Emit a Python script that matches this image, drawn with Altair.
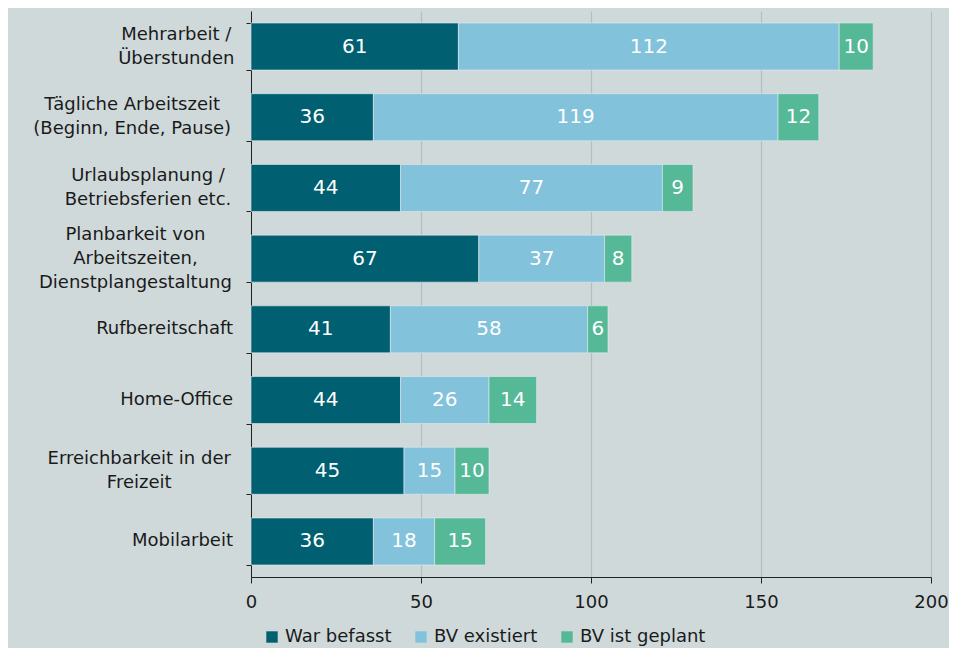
import altair as alt
import pandas as pd

categories = [
    "Mehrarbeit /|Überstunden",
    "Tägliche Arbeitszeit|(Beginn, Ende, Pause)",
    "Urlaubsplanung /|Betriebsferien etc.",
    "Planbarkeit von|Arbeitszeiten,|Dienstplangestaltung",
    "Rufbereitschaft",
    "Home-Office",
    "Erreichbarkeit in der|Freizeit",
    "Mobilarbeit",
]
series = ["War befasst", "BV existiert", "BV ist geplant"]
war_befasst = [61, 36, 44, 67, 41, 44, 45, 36]
bv_existiert = [112, 119, 77, 37, 58, 26, 15, 18]
bv_geplant = [10, 12, 9, 8, 6, 14, 10, 15]
colors = ["#005f71", "#82c2da", "#55b896"]
x_ticks = [0, 50, 100, 150, 200]

rows = []
for i, c in enumerate(categories):
    for j, (s, vals) in enumerate(zip(series, [war_befasst, bv_existiert, bv_geplant])):
        rows.append({"category": c, "series": s, "order": j, "value": vals[i]})
df = pd.DataFrame(rows)
cat_df = pd.DataFrame({"category": categories})

FONT = "DejaVu Sans"
LFS = 18      # y label font size
LH = 24       # y label line height
GAP = 18      # distance of label block from axis line

L = "split(datum.category, '|')"
NL = f"length({L})"


def width_expr(s):
    narrow = f"(length({s}) - length(replace({s}, regexp('[ijltfr,. ()/]', 'g'), '')))"
    return f"({LFS}*(0.62*length({s}) - 0.26*{narrow}))"


maxw = "max(" + ", ".join(
    f"({NL} > {i} ? {width_expr(f'{L}[{i}]')} : 0)" for i in range(3)
) + ")"

y_scale = alt.Scale(paddingInner=0.335, paddingOuter=0.17)

base = alt.Chart(df).transform_stack(
    stack="value", groupby=["category"], as_=["x0", "x1"],
    sort=[alt.SortField("order", order="ascending")]
).transform_calculate(mid="(datum.x0 + datum.x1) / 2")

y_enc = alt.Y(
    "category:N", sort=categories, title=None, scale=y_scale,
    axis=alt.Axis(labels=False, tickSize=5, tickColor="#222",
                  domainColor="#222", tickBand="extent"),
)

bars = base.mark_bar(stroke="#e0ecee", strokeWidth=0.6).encode(
    y=y_enc,
    x=alt.X("x0:Q", title=None,
            scale=alt.Scale(domain=[0, 200], nice=False),
            axis=alt.Axis(values=x_ticks, labelFontSize=18, labelFont=FONT,
                          labelColor="#1a1a1a", labelPadding=10, tickSize=6,
                          labelFlush=False,
                          tickColor="#222", domainColor="#222",
                          grid=True, gridColor="#b5bebf", gridWidth=1.2)),
    x2="x1:Q",
    color=alt.Color("series:N", sort=series,
                    scale=alt.Scale(domain=series, range=colors),
                    legend=alt.Legend(
                        title=None, orient="none", direction="horizontal",
                        legendX=12, legendY=617, symbolType="square",
                        symbolSize=130, symbolStrokeWidth=0, labelFontSize=18,
                        labelFont=FONT, labelColor="#1a1a1a", columnPadding=20,
                        symbolOffset=0, labelOffset=4)),
    order=alt.Order("order:Q"),
)

labels = base.mark_text(color="white", fontSize=20, font=FONT, baseline="middle").encode(
    y=alt.Y("category:N", sort=categories),
    x=alt.X("mid:Q"),
    text=alt.Text("value:Q"),
)

cat_base = alt.Chart(cat_df).transform_calculate(
    nlines=NL,
    xpos=f"{NL} > 1 ? -{GAP} - {maxw}/2 : -{GAP}",
)


def ylabel_layer(n, align, dy):
    return cat_base.transform_filter(f"datum.nlines == {n}").mark_text(
        align=align, baseline="middle", lineBreak="|", lineHeight=LH,
        fontSize=LFS, font=FONT, color="#1a1a1a", dy=dy,
    ).encode(
        y=alt.Y("category:N", sort=categories),
        x=alt.X("xpos:Q", scale=None),
        text="category:N",
    )


ylabels = (ylabel_layer(1, "right", 0)
           + ylabel_layer(2, "center", -LH / 2)
           + ylabel_layer(3, "center", -LH))

chart = alt.layer(bars, labels, ylabels).properties(
    width=680, height=566,
    padding={"left": 243, "top": 3, "right": 18, "bottom": 72},
    autosize=alt.AutoSizeParams(type="none"),
    background="#d0d9da",
).configure_view(stroke=None).configure_axis(labelFont=FONT)

chart.save("out.html", embed_options={"renderer": "svg", "actions": False})
